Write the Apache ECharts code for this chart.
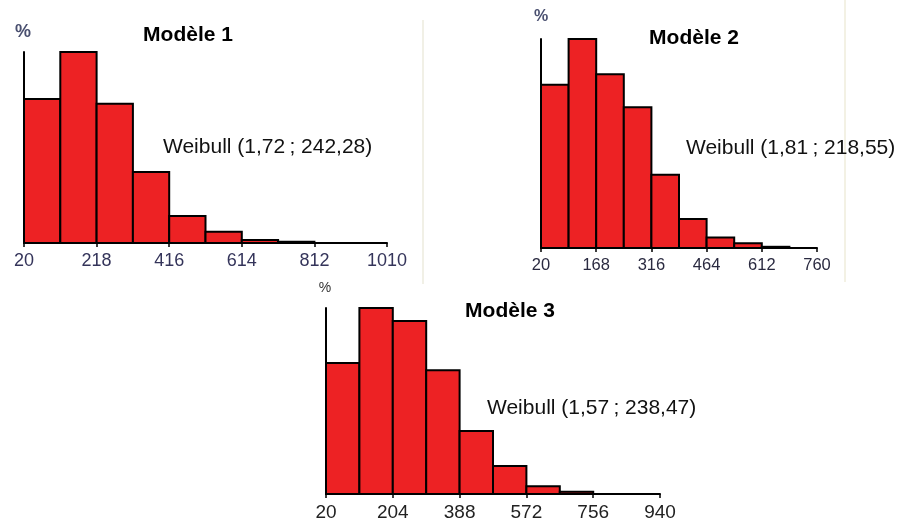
<!DOCTYPE html>
<html><head><meta charset="utf-8">
<script src="https://cdn.jsdelivr.net/npm/echarts@6/dist/echarts.min.js"></script>
<style>html,body{margin:0;padding:0;background:#fff}#c{width:900px;height:524px}</style>
</head><body><div id="c"></div>
<script>
// Modèle 1
const m1Edges = [20, 119, 218, 317, 416, 515, 614, 713, 812];
const m1Values = [24.5, 32.5, 23.7, 12.1, 4.6, 1.9, 0.5, 0.2];
const m1Ticks = [20, 218, 416, 614, 812, 1010];
// Modèle 2
const m2Edges = [20, 94, 168, 242, 316, 390, 464, 538, 612, 686];
const m2Values = [20.3, 26.0, 21.6, 17.5, 9.1, 3.6, 1.3, 0.6, 0.15];
const m2Ticks = [20, 168, 316, 464, 612, 760];
// Modèle 3
const m3Edges = [20, 112, 204, 296, 388, 480, 572, 664, 756];
const m3Values = [18.3, 26.0, 24.2, 17.3, 8.8, 3.9, 1.1, 0.3];
const m3Ticks = [20, 204, 388, 572, 756, 940];

const titles = ['Modèle 1', 'Modèle 2', 'Modèle 3'];
const weibull = ['Weibull (1,72\u2009; 242,28)', 'Weibull (1,81\u2009; 218,55)', 'Weibull (1,57\u2009; 238,47)'];

function histData(edges, values) {
  return values.map((v, i) => [edges[i], edges[i + 1], v]);
}
function renderItem(params, api) {
  const p0 = api.coord([api.value(0), api.value(2)]);
  const p1 = api.coord([api.value(1), 0]);
  return {
    type: 'rect',
    shape: { x: p0[0], y: p0[1], width: p1[0] - p0[0], height: p1[1] - p0[1] },
    style: { fill: '#ed2224', stroke: '#000', lineWidth: 2 }
  };
}
const FONT = 'Liberation Sans, Arial, sans-serif';
const panels = [
  { edges: m1Edges, values: m1Values, ticks: m1Ticks, grid: { left: 24, top: 52, width: 363, height: 191 },
    label: { fontSize: 18, color: '#34345a', margin: 9, fontFamily: FONT } },
  { edges: m2Edges, values: m2Values, ticks: m2Ticks, grid: { left: 541, top: 39, width: 276, height: 209 },
    label: { fontSize: 16.5, color: '#2a2a40', margin: 9, fontFamily: FONT } },
  { edges: m3Edges, values: m3Values, ticks: m3Ticks, grid: { left: 326, top: 308, width: 334, height: 186 },
    label: { fontSize: 19, color: '#222', margin: 9, fontFamily: FONT } }
];

const option = {
  animation: false,
  backgroundColor: '#fff',
  grid: panels.map(p => Object.assign({ containLabel: false }, p.grid)),
  xAxis: panels.map((p, i) => ({
    type: 'value', gridIndex: i, min: p.edges[0], max: p.ticks[p.ticks.length - 1],
    splitLine: { show: false },
    axisLine: { show: true, onZero: false, lineStyle: { color: '#000', width: 2 } },
    axisTick: { show: true, length: 4, customValues: p.ticks, lineStyle: { color: '#000', width: 1.5 } },
    axisLabel: Object.assign({ customValues: p.ticks, showMinLabel: true, showMaxLabel: true, formatter: v => String(v) }, p.label)
  })),
  yAxis: panels.map((p, i) => ({
    type: 'value', gridIndex: i, min: 0, max: Math.max(...p.values),
    splitLine: { show: false }, axisLabel: { show: false }, axisTick: { show: false },
    axisLine: { show: true, onZero: false, lineStyle: { color: '#000', width: 2 } }
  })),
  series: panels.map((p, i) => ({
    type: 'custom', xAxisIndex: i, yAxisIndex: i, renderItem: renderItem,
    encode: { x: [0, 1], y: 2 }, data: histData(p.edges, p.values)
  })),
  graphic: [
    { type: 'line', shape: { x1: 423, y1: 20, x2: 423, y2: 284 }, style: { stroke: '#f1f0e6', lineWidth: 2 }, z: -1 },
    { type: 'line', shape: { x1: 845, y1: 0, x2: 845, y2: 282 }, style: { stroke: '#f3f1e4', lineWidth: 2 }, z: -1 },
    { type: 'text', x: 23, y: 32, style: { text: '%', fill: '#4a5070', font: 'bold 18px ' + FONT, textAlign: 'center', textVerticalAlign: 'middle' } },
    { type: 'text', x: 541, y: 17, style: { text: '%', fill: '#4a5070', font: 'bold 16px ' + FONT, textAlign: 'center', textVerticalAlign: 'middle' } },
    { type: 'text', x: 325, y: 288, style: { text: '%', fill: '#333', font: '14px ' + FONT, textAlign: 'center', textVerticalAlign: 'middle' } },
    { type: 'text', x: 188, y: 35, style: { text: titles[0], fill: '#000', font: 'bold 21px ' + FONT, textAlign: 'center', textVerticalAlign: 'middle' } },
    { type: 'text', x: 694, y: 38, style: { text: titles[1], fill: '#000', font: 'bold 21px ' + FONT, textAlign: 'center', textVerticalAlign: 'middle' } },
    { type: 'text', x: 510, y: 311, style: { text: titles[2], fill: '#000', font: 'bold 21px ' + FONT, textAlign: 'center', textVerticalAlign: 'middle' } },
    { type: 'text', x: 163, y: 147, style: { text: weibull[0], fill: '#111', font: '21px ' + FONT, textAlign: 'left', textVerticalAlign: 'middle' } },
    { type: 'text', x: 686, y: 148, style: { text: weibull[1], fill: '#111', font: '21px ' + FONT, textAlign: 'left', textVerticalAlign: 'middle' } },
    { type: 'text', x: 487, y: 408, style: { text: weibull[2], fill: '#111', font: '21px ' + FONT, textAlign: 'left', textVerticalAlign: 'middle' } }
  ]
};
echarts.init(document.getElementById('c'), null, { renderer: 'canvas' }).setOption(option);
</script></body></html>
